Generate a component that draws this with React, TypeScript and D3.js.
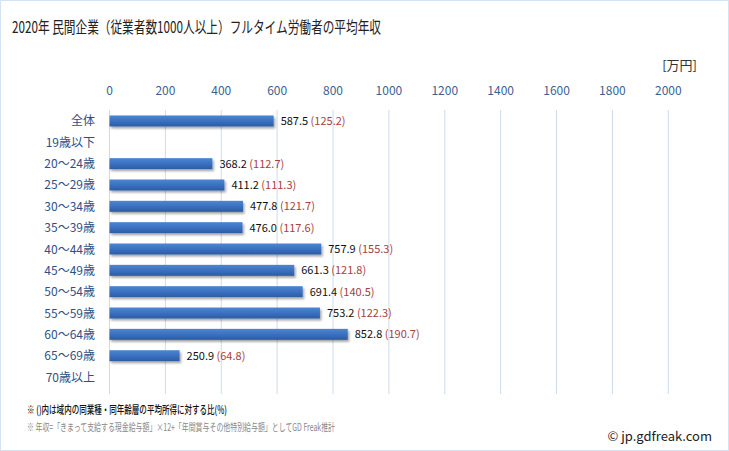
import React from "react";
import * as d3 from "d3";

const categories = ["全体", "19歳以下", "20～24歳", "25～29歳", "30～34歳", "35～39歳", "40～44歳", "45～49歳", "50～54歳", "55～59歳", "60～64歳", "65～69歳", "70歳以上"];
const incomes: (number | null)[] = [587.5, null, 368.2, 411.2, 477.8, 476.0, 757.9, 661.3, 691.4, 753.2, 852.8, 250.9, null];
const ratios: (number | null)[] = [125.2, null, 112.7, 111.3, 121.7, 117.6, 155.3, 121.8, 140.5, 122.3, 190.7, 64.8, null];
const xTicks = [0, 200, 400, 600, 800, 1000, 1200, 1400, 1600, 1800, 2000];

const W = 729;
const H = 451;
const FONT = "'Noto Sans CJK JP', 'Noto Sans', sans-serif";

export default function App() {
  const x = d3.scaleLinear().domain([0, 2000]).range([109.5, 668.3]);
  const y = d3.scaleBand().domain(categories).range([110.3, 387.7]).paddingInner(0.48).paddingOuter(0.24);
  const bh = 11;
  return (
    <svg width={W} height={H} style={{ position: "absolute", left: 0, top: 0, background: "#fff" }}>
      <defs>
        <linearGradient id="barGrad" x1="0" y1="0" x2="0" y2="1">
          <stop offset="0" stopColor="#4c86d3" />
          <stop offset="0.5" stopColor="#3a71c0" />
          <stop offset="1" stopColor="#2c5ca3" />
        </linearGradient>
        <filter id="shadow" x="-5%" y="-30%" width="110%" height="180%">
          <feDropShadow dx="1.5" dy="2" stdDeviation="1.2" floodColor="#000" floodOpacity="0.35" />
        </filter>
      </defs>
      <rect x={0.5} y={0.5} width={W - 1} height={H - 1} fill="#fff" stroke="#d5e2f2" />
      <text x={12} y={33} fontFamily={FONT} fontSize={16} fill="#222" textLength={369} lengthAdjust="spacingAndGlyphs">
        2020年 民間企業（従業者数1000人以上）フルタイム労働者の平均年収
      </text>
      <text x={697} y={70} textAnchor="end" fontFamily={FONT} fontSize={13} fill="#333">[万円]</text>
      {xTicks.map((t) => (
        <g key={t}>
          <line x1={x(t)} x2={x(t)} y1={110} y2={394} stroke="#cfdbea" strokeWidth={1} />
          <text x={x(t)} y={95} textAnchor="middle" fontFamily={FONT} fontSize={12} fill="#3c5f93">{t}</text>
        </g>
      ))}
      {categories.map((c, i) => {
        const cy = (y(c) as number) + y.bandwidth() / 2;
        const v = incomes[i];
        const r = ratios[i];
        return (
          <g key={c}>
            <text x={95} y={cy + 4.5} textAnchor="end" fontFamily={FONT} fontSize={12} fill="#2f5086">{c}</text>
            {v != null && (
              <>
                <rect x={x(0)} y={cy - bh / 2} width={x(v) - x(0)} height={bh} fill="url(#barGrad)" filter="url(#shadow)" />
                <text x={x(v) + 7} y={cy + 4} fontFamily={FONT} fontSize={11} fill="#111">
                  {v.toFixed(1)}
                  <tspan fill="#a8403c"> ({r!.toFixed(1)})</tspan>
                </text>
              </>
            )}
          </g>
        );
      })}
      <text x={27} y={414} fontFamily={FONT} fontSize={11} fontWeight={500} fill="#111" textLength={200} lengthAdjust="spacingAndGlyphs">
        ※ ()内は域内の同業種・同年齢層の平均所得に対する比(%)
      </text>
      <text x={27} y={431} fontFamily={FONT} fontSize={10.5} fill="#888" textLength={308} lengthAdjust="spacingAndGlyphs">
        ※ 年収=「きまって支給する現金給与額」×12+「年間賞与その他特別給与額」としてGD Freak推計
      </text>
      <text x={712} y={441} textAnchor="end" fontFamily={FONT} fontSize={13} fill="#222">© jp.gdfreak.com</text>
    </svg>
  );
}
